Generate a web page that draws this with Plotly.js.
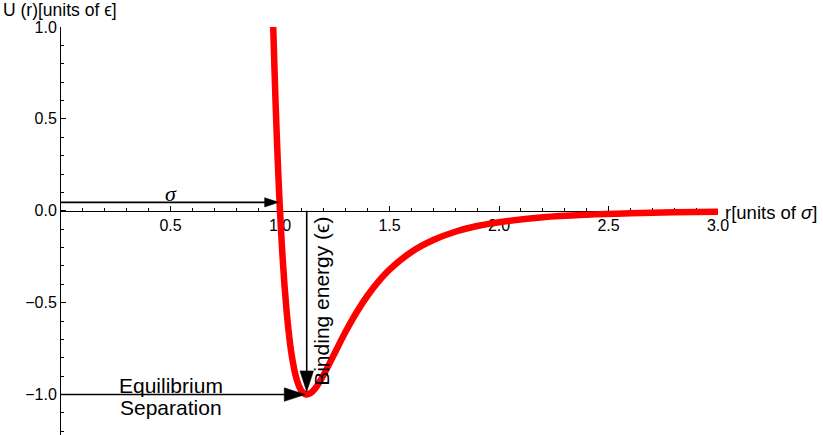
<!DOCTYPE html>
<html>
<head>
<meta charset="utf-8">
<script src="https://cdn.plot.ly/plotly-3.0.1.min.js"></script>
<style>
  html, body { margin: 0; padding: 0; background: #fff; }
  #chart { width: 823px; height: 435px; }
</style>
</head>
<body>
<div id="chart"></div>
<script>
// Lennard-Jones potential
const rValues = [0.965, 0.97, 0.975, 0.98, 0.985, 0.99, 0.995, 1.0, 1.01, 1.02, 1.03, 1.04, 1.05, 1.06, 1.07, 1.08, 1.09, 1.10, 1.12, 1.14, 1.16, 1.18, 1.20, 1.25, 1.30, 1.35, 1.40, 1.45, 1.50, 1.6, 1.7, 1.8, 1.9, 2.0, 2.2, 2.4, 2.6, 2.8, 3.0];
const uValues = [1.18, 0.963, 0.764, 0.582, 0.416, 0.264, 0.126, 0.0, -0.218, -0.398, -0.544, -0.663, -0.758, -0.832, -0.889, -0.932, -0.963, -0.983, -1.000, -0.992, -0.968, -0.933, -0.891, -0.774, -0.657, -0.552, -0.461, -0.384, -0.320, -0.224, -0.159, -0.114, -0.083, -0.062, -0.035, -0.021, -0.013, -0.008, -0.005];

// tick labels
const xTickVals = [0.5, 1.0, 1.5, 2.0, 2.5, 3.0];
const xTickText = ["0.5", "1.0", "1.5", "2.0", "2.5", "3.0"];
const yTickVals = [-1.0, -0.5, 0.0, 0.5, 1.0];
const yTickText = ["\u22121.0", "\u22120.5", "0.0", "0.5", "1.0"];

// annotation arrows (start, end)
const sigmaArrowX = [0.0, 0.995];
const sigmaArrowY = [0.046, 0.046];
const bindingArrowX = [1.122, 1.122];
const bindingArrowY = [0.0, -0.985];
const equilArrowX = [0.0, 1.115];
const equilArrowY = [-1.0, -1.0];

const xRange = [0, 3];
const yRange = [-1.22, 1.0];

const FONT = "Liberation Sans, Arial, sans-serif";

function arrowTrace(xs, ys, headSize) {
  return {
    x: xs, y: ys, type: 'scatter', mode: 'lines+markers',
    line: { color: '#000', width: 1.6 },
    marker: { symbol: 'arrow', size: [0, headSize], angleref: 'previous', color: '#000', opacity: 1,
              line: { width: 0.5, color: '#000' } },
    hoverinfo: 'skip', showlegend: false
  };
}

const traces = [
  {
    x: rValues, y: uValues, type: 'scatter', mode: 'lines',
    line: { color: '#ff0000', width: 6.5, shape: 'spline' },
    hoverinfo: 'skip', showlegend: false
  },
  arrowTrace(sigmaArrowX, sigmaArrowY, 15),
  arrowTrace(bindingArrowX, bindingArrowY, 22),
  arrowTrace(equilArrowX, equilArrowY, 22)
];

const xPos = (0 - yRange[0]) / (yRange[1] - yRange[0]);

const layout = {
  width: 823, height: 435,
  margin: { l: 61, r: 105, t: 27, b: 0, pad: 0 },
  paper_bgcolor: '#fff', plot_bgcolor: '#fff',
  font: { family: FONT, color: '#000', size: 16 },
  showlegend: false,
  xaxis: {
    range: xRange, anchor: 'free', position: xPos,
    showline: true, linecolor: '#000', linewidth: 1,
    showgrid: false, zeroline: false, layer: 'below traces',
    ticks: 'inside', ticklen: 5, tickwidth: 1, tickcolor: '#000',
    tickmode: 'array', tickvals: xTickVals, ticktext: xTickText,
    tickfont: { family: FONT, size: 16, color: '#000' },
    minor: { dtick: 0.1, tick0: 0, ticks: 'inside', ticklen: 3, tickwidth: 1, tickcolor: '#000', showgrid: false }
  },
  yaxis: {
    range: yRange, anchor: 'x',
    showline: true, linecolor: '#000', linewidth: 1,
    showgrid: false, zeroline: false, layer: 'below traces',
    ticks: 'inside', ticklen: 5, tickwidth: 1, tickcolor: '#000',
    tickmode: 'array', tickvals: yTickVals, ticktext: yTickText,
    tickfont: { family: FONT, size: 16, color: '#000' },
    minor: { dtick: 0.1, tick0: 0, ticks: 'inside', ticklen: 3, tickwidth: 1, tickcolor: '#000', showgrid: false }
  },
  annotations: [
    { text: "U (r)[units of \u03f5]", xref: 'paper', yref: 'paper', x: (1 - 61) / 657, y: (435 - 10.5) / 408,
      xanchor: 'left', yanchor: 'middle', showarrow: false, font: { family: FONT, size: 17.5, color: '#000' } },
    { text: "r[units of <i>\u03c3</i>]", xref: 'paper', yref: 'paper', x: (723 - 61) / 657, y: (435 - 212) / 408,
      xanchor: 'left', yanchor: 'middle', showarrow: false, font: { family: FONT, size: 18.5, color: '#000' } },
    { text: "<i>\u03c3</i>", xref: 'x', yref: 'y', x: 0.5, y: 0.095, xanchor: 'center', yanchor: 'middle',
      showarrow: false, font: { family: "Liberation Serif, Times New Roman, serif", size: 22, color: '#000' } },
    { text: "Equilibrium", xref: 'x', yref: 'y', x: 0.5, y: -0.95, xanchor: 'center', yanchor: 'middle',
      showarrow: false, font: { family: FONT, size: 21, color: '#000' } },
    { text: "Separation", xref: 'x', yref: 'y', x: 0.5, y: -1.07, xanchor: 'center', yanchor: 'middle',
      showarrow: false, font: { family: FONT, size: 21, color: '#000' } },
    { text: "Binding energy (\u03f5)", xref: 'x', yref: 'y', x: 1.19, y: -0.492, xanchor: 'center', yanchor: 'middle',
      textangle: -90, showarrow: false, font: { family: FONT, size: 21, color: '#000' } }
  ]
};

Plotly.newPlot('chart', traces, layout, { staticPlot: true, displayModeBar: false });
</script>
</body>
</html>
